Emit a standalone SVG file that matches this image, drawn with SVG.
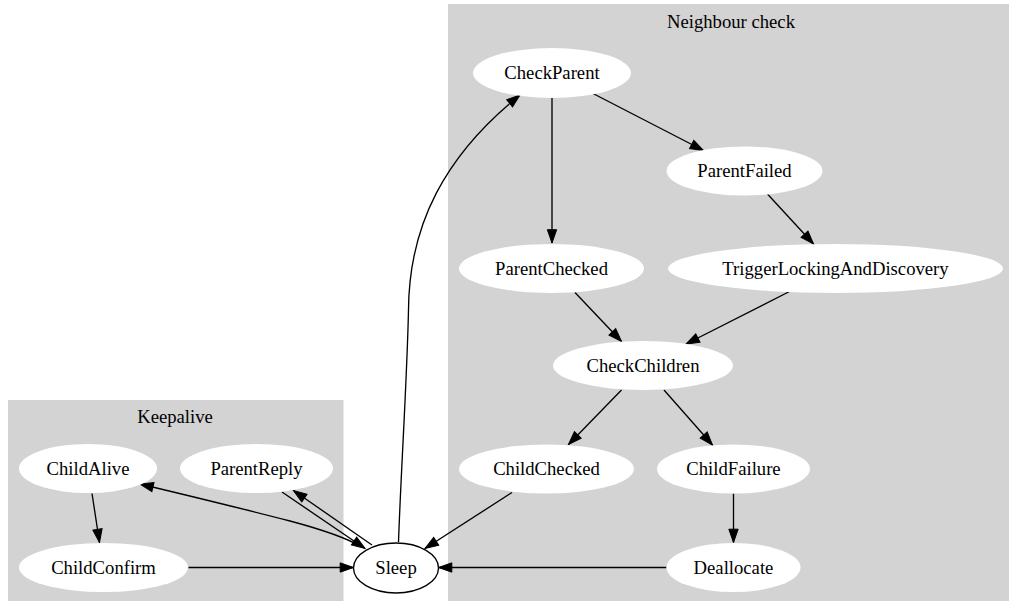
<svg xmlns="http://www.w3.org/2000/svg" width="1009" height="601" viewBox="0 0 1009 601">
  <style>
    .cluster { fill: #d3d3d3; stroke: none; }
    .node { fill: #ffffff; stroke: none; }
    .node.plain { stroke: #000000; stroke-width: 1.33; }
    text { font-family: 'Liberation Serif', Tinos, 'Times New Roman', Times, 'DejaVu Serif', serif; font-size: 18.67px; fill: #000000; text-anchor: middle; }
    .edge { fill: none; stroke: #000000; stroke-width: 1.33; marker-end: url(#arrow); }
  </style>
  <defs>
    <marker id="arrow" markerUnits="userSpaceOnUse" markerWidth="14" markerHeight="10" refX="13.3" refY="4.67" orient="auto" overflow="visible">
      <path d="M0,0 L13.3,4.67 L0,9.33 Z" fill="#000000" stroke="#000000" stroke-width="1"/>
    </marker>
  </defs>
  <rect width="1009" height="601" fill="#ffffff"/>

  <!-- clusters -->
  <g id="cluster_keepalive">
    <rect class="cluster" x="8" y="400" width="335.5" height="201"/>
    <text x="175" y="423" font-family="Liberation Serif, serif">Keepalive</text>
  </g>
  <g id="cluster_neighbour">
    <rect class="cluster" x="448" y="4" width="561" height="597"/>
    <text x="731" y="28" font-family="Liberation Serif, serif">Neighbour check</text>
  </g>

  <!-- connectors -->
  <g id="edges">
    <path class="edge" d="M552,98 L552,243"/>
    <path class="edge" d="M593,93.5 L703.5,150.5"/>
    <path class="edge" d="M767,193.5 L813.5,244"/>
    <path class="edge" d="M575,292.5 L621.5,341.5"/>
    <path class="edge" d="M789.5,291.5 L686,344"/>
    <path class="edge" d="M621.5,390 L568.5,444.5"/>
    <path class="edge" d="M664,390 L712.5,445"/>
    <path class="edge" d="M733.5,493.5 L733.5,542.5"/>
    <path class="edge" d="M666.5,567.5 L438.5,567.5"/>
    <path class="edge" d="M512,492.5 L425,548.5"/>
    <path class="edge" d="M398.5,542 C401,470 407,380 408.5,310 C409,225 445,155 520,95"/>
    <path class="edge" d="M92,493.5 L99.5,542.5"/>
    <path class="edge" d="M188.5,567.5 L353.5,567.5"/>
    <path class="edge" d="M362,547 C345,537 320,529 290,521 C240,508 190,496 140,484"/>
    <path class="edge" d="M282,492 L365,548.5"/>
    <path class="edge" d="M372,545 L293.5,490.5"/>
  </g>

  <!-- nodes -->
  <g id="CheckParent">
    <ellipse class="node" cx="552" cy="73" rx="79" ry="25"/>
    <text x="552" y="79">CheckParent</text>
  </g>
  <g id="ParentFailed">
    <ellipse class="node" cx="744.5" cy="171" rx="78" ry="24.5"/>
    <text x="744.5" y="177">ParentFailed</text>
  </g>
  <g id="ParentChecked">
    <ellipse class="node" cx="551.5" cy="268.5" rx="92.5" ry="24.5"/>
    <text x="551.5" y="274.5">ParentChecked</text>
  </g>
  <g id="TriggerLockingAndDiscovery">
    <ellipse class="node" cx="835.5" cy="268.5" rx="167.5" ry="24.5"/>
    <text x="835.5" y="274.5">TriggerLockingAndDiscovery</text>
  </g>
  <g id="CheckChildren">
    <ellipse class="node" cx="643" cy="365.5" rx="90" ry="24.5"/>
    <text x="643" y="371.5">CheckChildren</text>
  </g>
  <g id="ChildChecked">
    <ellipse class="node" cx="546.5" cy="469" rx="87.5" ry="24.5"/>
    <text x="546.5" y="475">ChildChecked</text>
  </g>
  <g id="ChildFailure">
    <ellipse class="node" cx="733.5" cy="469" rx="76.5" ry="24.5"/>
    <text x="733.5" y="475">ChildFailure</text>
  </g>
  <g id="Deallocate">
    <ellipse class="node" cx="733.5" cy="567.5" rx="67" ry="24.5"/>
    <text x="733.5" y="573.5">Deallocate</text>
  </g>
  <g id="Sleep">
    <ellipse class="node plain" cx="396" cy="568" rx="42.5" ry="25"/>
    <text x="396" y="574">Sleep</text>
  </g>
  <g id="ChildAlive">
    <ellipse class="node" cx="88" cy="468.5" rx="69" ry="24.5"/>
    <text x="88" y="474.5">ChildAlive</text>
  </g>
  <g id="ParentReply">
    <ellipse class="node" cx="256.5" cy="468.5" rx="76.5" ry="24.5"/>
    <text x="256.5" y="474.5">ParentReply</text>
  </g>
  <g id="ChildConfirm">
    <ellipse class="node" cx="103.5" cy="567.5" rx="84.5" ry="24.5"/>
    <text x="103.5" y="573.5">ChildConfirm</text>
  </g>
</svg>
